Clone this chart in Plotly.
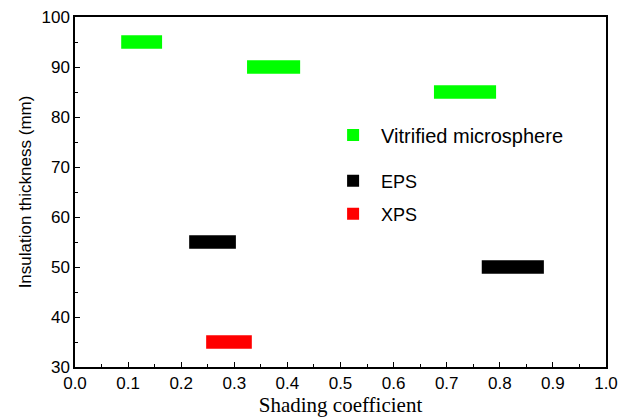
import plotly.graph_objects as go

# Data: horizontal segments (start, end) at thickness values
vit_y = [95, 90, 85]
vit_start = [0.087, 0.324, 0.676]
vit_end = [0.164, 0.424, 0.793]

eps_y = [55, 50]
eps_start = [0.215, 0.766]
eps_end = [0.303, 0.883]

xps_y = [35]
xps_start = [0.247]
xps_end = [0.333]

series = [
    ("Vitrified microsphere", vit_y, vit_start, vit_end, "#00FF00", "legend"),
    ("EPS", eps_y, eps_start, eps_end, "#000000", "legend2"),
    ("XPS", xps_y, xps_start, xps_end, "#FF0000", "legend3"),
]

fig = go.Figure()
for name, ys, s, e, col, lg in series:
    fig.add_trace(go.Bar(
        orientation="h", y=ys, x=[b - a for a, b in zip(s, e)], base=s,
        width=2.7, marker=dict(color=col, line=dict(width=0)),
        name=name, legend=lg, showlegend=True,
    ))


def leg(ypix, size):
    return dict(bgcolor="rgba(0,0,0,0)", borderwidth=0,
                font=dict(family="Liberation Sans, Arial", size=size, color="#000"),
                xanchor="left", yanchor="middle", itemwidth=46,
                x=0.471, y=(100 - (ypix - 17) / 5 - 30) / 70)


tickfont = dict(family="Liberation Sans, Arial", size=17, color="#000")
fig.update_layout(
    width=618, height=420,
    margin=dict(l=75, r=12, t=17, b=53),
    paper_bgcolor="white", plot_bgcolor="white",
    barmode="overlay",
    legend=leg(135, 20),
    legend2=leg(181, 18),
    legend3=leg(214, 18),
    xaxis=dict(
        range=[0, 1.0], dtick=0.1, tick0=0, tickformat=".1f", automargin=False,
        ticks="inside", ticklen=5, tickwidth=1.2, tickcolor="#000",
        minor=dict(dtick=0.05, ticks="inside", ticklen=3, tickwidth=1, tickcolor="#000"),
        showline=True, linecolor="#000", linewidth=1.5, mirror=True,
        showgrid=False, zeroline=False, tickfont=tickfont,
        title=dict(text="Shading coefficient", standoff=4,
                   font=dict(family="Liberation Serif, Times New Roman", size=21, color="#000")),
    ),
    yaxis=dict(
        range=[30, 100], dtick=10, tick0=30, automargin=False,
        ticks="inside", ticklen=5, tickwidth=1.2, tickcolor="#000",
        minor=dict(dtick=5, ticks="inside", ticklen=3, tickwidth=1, tickcolor="#000"),
        showline=True, linecolor="#000", linewidth=1.5, mirror=True,
        showgrid=False, zeroline=False, tickfont=tickfont,
        title=dict(text="Insulation thickness (mm)", standoff=6,
                   font=dict(family="Liberation Sans, Arial", size=17, color="#000")),
    ),
)

fig.write_html("out.html")
